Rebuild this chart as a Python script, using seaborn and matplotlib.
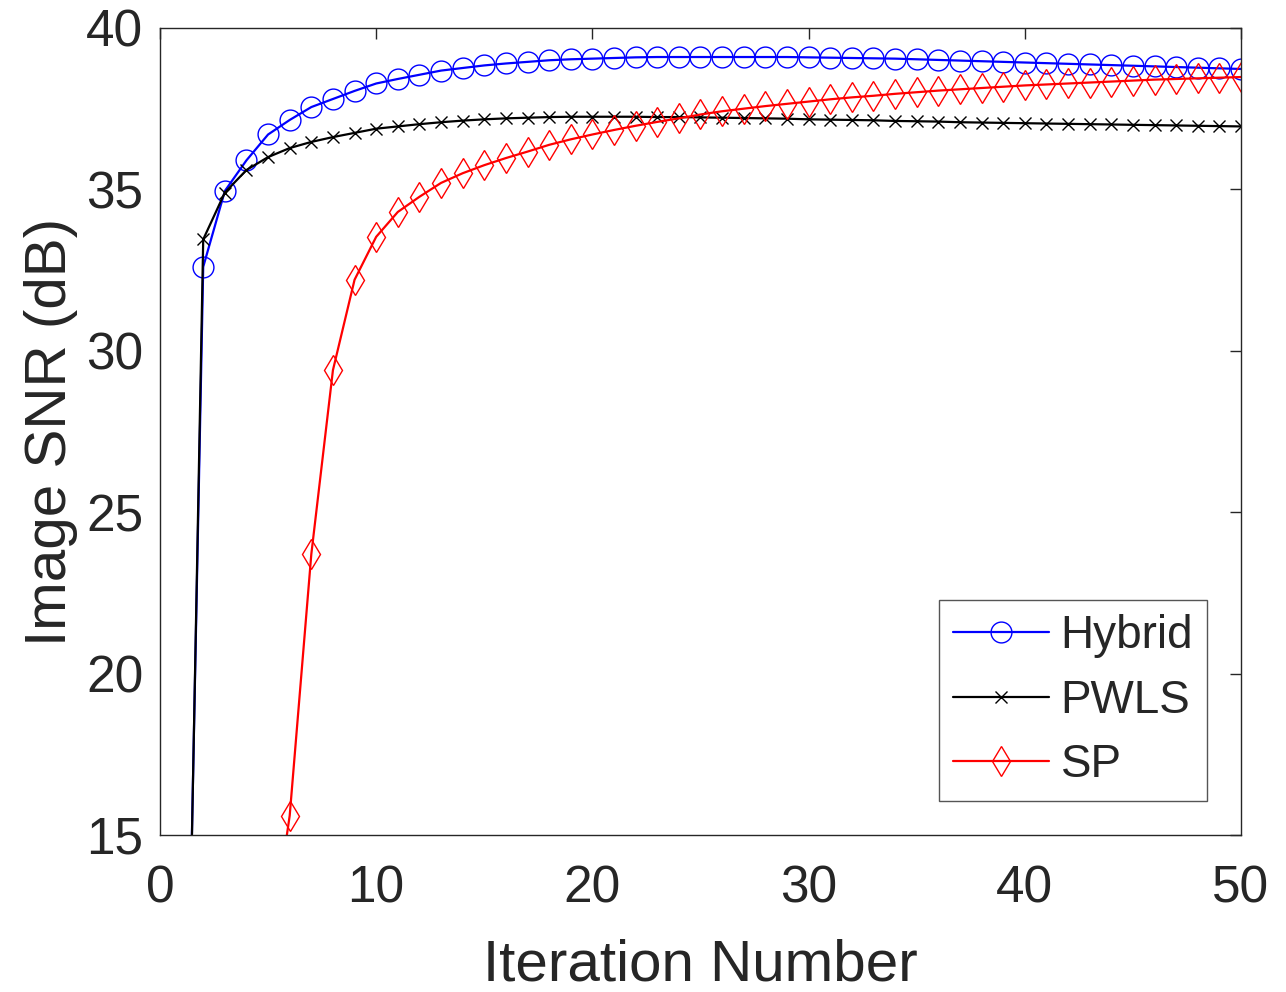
import numpy as np
import pandas as pd
import matplotlib
matplotlib.use("Agg")
import matplotlib.pyplot as plt
import seaborn as sns

# ── Data ──────────────────────────────────────────────────────────────────────
ITERATIONS = list(range(1, 51))

HYBRID = [
    -1.0, 32.6, 34.95, 35.9, 36.7, 37.15, 37.55, 37.8, 38.05, 38.28,
    38.42, 38.55, 38.68, 38.76, 38.84, 38.9, 38.95, 39.0, 39.03, 39.05,
    39.07, 39.09, 39.1, 39.1, 39.1, 39.1, 39.1, 39.1, 39.1, 39.09,
    39.08, 39.07, 39.06, 39.05, 39.03, 39.01, 38.99, 38.97, 38.95, 38.93,
    38.91, 38.89, 38.87, 38.85, 38.83, 38.81, 38.79, 38.77, 38.75, 38.73,
]
PWLS = [
    -2.0, 33.45, 34.9, 35.6, 36.0, 36.28, 36.47, 36.62, 36.75, 36.88,
    36.95, 37.02, 37.08, 37.13, 37.17, 37.2, 37.22, 37.24, 37.25, 37.25,
    37.25, 37.25, 37.24, 37.24, 37.23, 37.22, 37.21, 37.2, 37.19, 37.17,
    37.16, 37.15, 37.14, 37.12, 37.11, 37.1, 37.08, 37.07, 37.06, 37.05,
    37.04, 37.03, 37.02, 37.01, 37.0, 36.99, 36.98, 36.97, 36.96, 36.95,
]
SP = [
    -6.0, 0.0, 4.0, 8.0, 11.0, 15.6, 23.7, 29.4, 32.2, 33.53,
    34.3, 34.77, 35.2, 35.5, 35.75, 35.97, 36.17, 36.38, 36.55, 36.7,
    36.84, 36.97, 37.09, 37.2, 37.32, 37.42, 37.5, 37.58, 37.65, 37.72,
    37.79, 37.85, 37.9, 37.96, 38.01, 38.06, 38.1, 38.14, 38.18, 38.22,
    38.25, 38.28, 38.31, 38.34, 38.37, 38.4, 38.42, 38.44, 38.46, 38.48,
]

METHODS = ["Hybrid", "PWLS", "SP"]
X_TICKS = [0, 10, 20, 30, 40, 50]
Y_TICKS = [15, 20, 25, 30, 35, 40]

# ── Style ─────────────────────────────────────────────────────────────────────
sns.set_theme(style="white")
plt.rcParams["font.family"] = ["Liberation Sans", "DejaVu Sans"]

TEXT_COLOR = "#262626"
series = {"Hybrid": HYBRID, "PWLS": PWLS, "SP": SP}
styles = {
    "Hybrid": dict(color="#0000ff", marker="o", markersize=15),
    "PWLS":   dict(color="#000000", marker="x", markersize=9),
    "SP":     dict(color="#ff0000", marker="d", markersize=15.5),
}

df = pd.concat(
    [pd.DataFrame({"Iteration": ITERATIONS, "SNR": vals, "Method": name})
     for name, vals in series.items()],
    ignore_index=True,
)

fig = plt.figure(figsize=(12.86, 9.92), dpi=100)
ax = fig.add_axes([0.1244, 0.1583, 0.8406, 0.8135])

for name in METHODS:
    st = styles[name]
    sns.lineplot(
        data=df[df["Method"] == name], x="Iteration", y="SNR", ax=ax,
        color=st["color"], linewidth=1.6, marker=st["marker"],
        markersize=st["markersize"], markerfacecolor="none",
        markeredgecolor=st["color"], markeredgewidth=1.0,
        label=name,
    )

ax.set_xlim(0, 50)
ax.set_ylim(15, 40)
ax.set_xticks(X_TICKS)
ax.set_yticks(Y_TICKS)
ax.tick_params(axis="both", which="both", direction="in", length=8, width=1.0,
               top=True, right=True, labelsize=37, colors=TEXT_COLOR)
ax.tick_params(axis="x", pad=21)
ax.tick_params(axis="y", pad=12)
for sp in ax.spines.values():
    sp.set_color(TEXT_COLOR)
    sp.set_linewidth(1.0)

ax.set_xlabel("Iteration Number", fontsize=42, color=TEXT_COLOR, labelpad=18)
ax.set_ylabel("Image SNR (dB)", fontsize=42, color=TEXT_COLOR, labelpad=6)

leg = ax.legend(loc="lower right", fontsize=33, frameon=True, fancybox=False,
                handlelength=2.1, handletextpad=0.25, borderpad=0.3,
                labelspacing=0.45, borderaxespad=0,
                bbox_to_anchor=(0.9685, 0.042))
leg.get_frame().set_edgecolor("#555555")
leg.get_frame().set_linewidth(1.0)
leg.get_frame().set_alpha(1.0)

fig.savefig("out.png", dpi=100)
